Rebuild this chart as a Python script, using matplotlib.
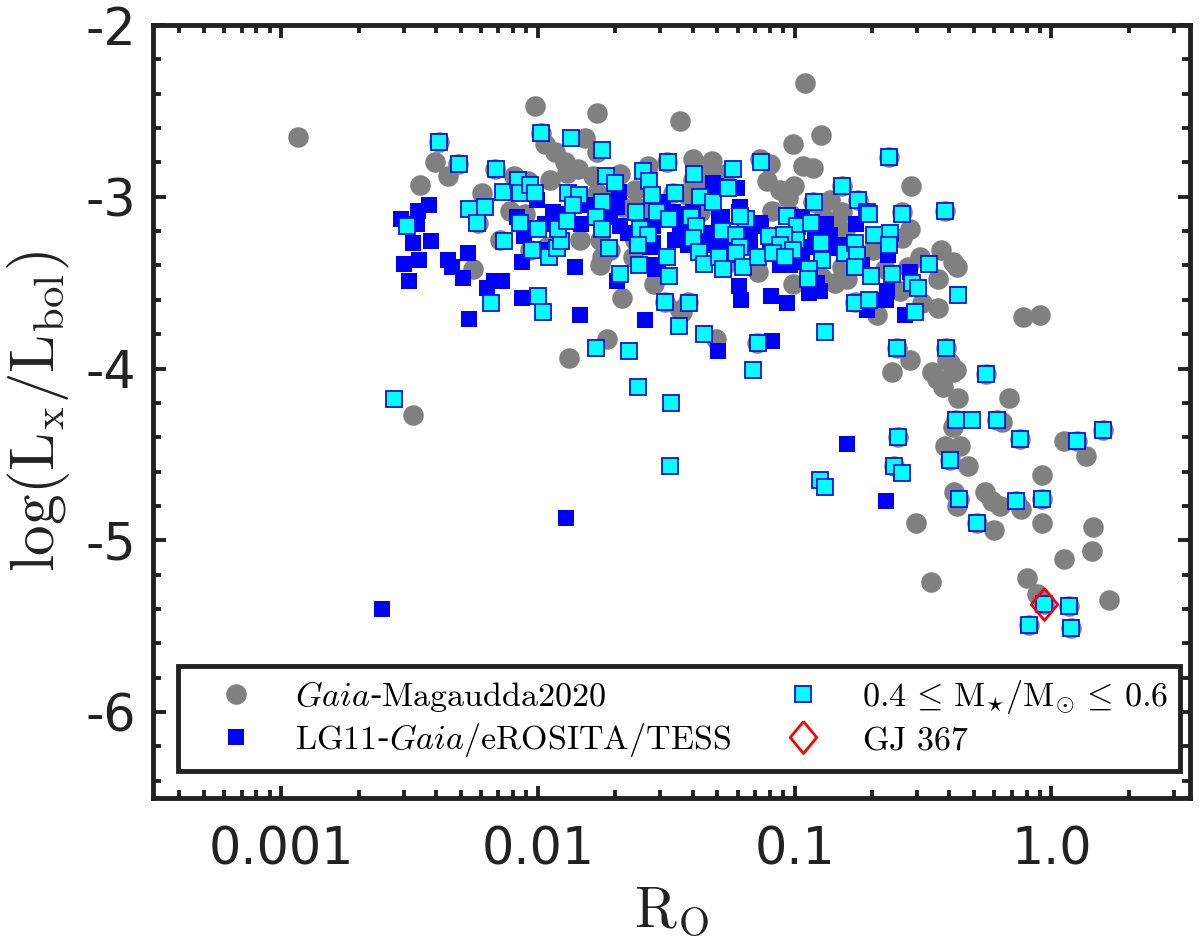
import numpy as np
from matplotlib import pyplot as plt
from matplotlib.ticker import FixedLocator, FixedFormatter, MultipleLocator, NullFormatter

plt.rcParams['axes.unicode_minus'] = False
plt.rcParams['mathtext.fontset'] = 'cm'

# log10(Ro), log(Lx/Lbol)
gaia_logro = [-2.010, -1.769, -1.446, -2.384, -2.400, -2.349, -2.458, -2.310, -2.166, -2.217, -2.092, -2.038,
              -2.108, -1.987, -1.971, -1.933, -1.894, -1.843, -1.952, -1.886, -1.816, -1.769, -1.784, -2.147,
              -2.232, -1.964, -2.252, -1.757, -1.749, -1.629, -1.718, -1.671, -1.547, -1.504, -1.446, -1.730,
              -1.878, -1.570, -1.496, -1.617, -1.668, -1.707, -1.769, -0.959, -0.896, -1.005, -1.395, -1.321,
              -1.134, -1.095, -0.966, -0.927, -1.107, -1.001, -1.025, -1.087, -0.546, -0.631, -0.814, -0.927,
              -0.814, -0.752, -0.581, -0.413, -0.581, -0.834, -0.888, -0.429, -0.510, -0.382, -0.557, -0.440,
              -0.366, -0.694, -0.814, -0.795, -0.842, -0.892, -1.005, -1.142, -0.588, -0.503, -0.440, -0.678,
              -0.764, -1.414, -1.438, -1.305, -1.146, -0.600, -0.409, -0.549, -0.620, -0.464, -0.405, -0.382,
              -1.368, -1.395, -1.473, -1.418, -1.329, -0.444, -0.421, -0.363, -0.394, -0.370, -0.253, -0.164,
              -0.382, -0.370, -0.191, -0.210, -0.121, -0.596, -0.413, -0.355, -0.394, -0.324, -0.612, 0.051,
              0.101, 0.136, 0.203, -0.035, -0.378, -0.366, -0.358, -0.257, -0.230, -0.199, -0.136, -0.117,
              -0.035, -0.035, -0.526, -0.288, -0.222, 0.163, 0.160, 0.051, -0.468, -0.094, -0.055, 0.226,
              0.070, -0.086, 0.078, -0.109, -0.043, -2.934, -2.486, -0.027,
              -1.621, -1.192, -1.017, -0.804, -1.270, -1.679, -1.621, -1.562, -1.368, -1.270, -1.056, -0.861,
              -1.757, -1.835, -2.030, -2.050, -0.549, -0.647]
gaia_lx = [-2.47, -2.51, -2.56, -2.68, -2.80, -2.88, -2.93, -2.81, -2.84, -2.98, -2.88, -2.91,
           -3.08, -2.63, -2.69, -2.74, -2.80, -2.84, -2.90, -2.86, -2.66, -2.74, -2.88, -3.25,
           -3.15, -3.29, -3.42, -3.25, -3.35, -3.35, -3.31, -3.59, -3.51, -3.61, -3.66, -3.83,
           -3.94, -2.82, -2.80, -3.06, -3.06, -2.98, -2.98, -2.34, -2.64, -2.69, -2.78, -2.79,
           -2.78, -2.81, -2.82, -2.83, -2.91, -2.94, -3.01, -3.08, -2.94, -2.77, -2.94, -3.03,
           -3.09, -3.02, -3.09, -3.08, -3.24, -3.17, -3.12, -3.31, -3.35, -3.38, -3.41, -3.48,
           -3.41, -3.31, -3.41, -3.48, -3.50, -3.47, -3.51, -3.44, -3.55, -3.62, -3.65, -3.69,
           -3.61, -3.61, -3.67, -3.83, -3.85, -3.88, -3.88, -3.95, -4.02, -4.02, -3.95, -4.02,
           -3.09, -2.90, -2.98, -2.99, -2.86, -4.06, -4.11, -4.17, -3.97, -4.01, -4.03, -4.17,
           -4.34, -4.30, -4.31, -4.30, -4.41, -4.40, -4.45, -4.45, -4.53, -4.57, -4.57, -4.42,
           -4.42, -4.51, -4.36, -4.62, -4.72, -4.80, -4.76, -4.72, -4.77, -4.80, -4.77, -4.82,
           -4.76, -4.90, -4.90, -4.90, -4.94, -4.92, -5.06, -5.11, -5.24, -5.22, -5.31, -5.35,
           -5.38, -5.49, -5.51, -3.70, -3.69, -2.65, -4.27, -5.37,
           -3.25, -3.19, -3.10, -3.20, -3.40, -2.87, -2.96, -3.08, -2.96, -2.87, -2.96, -3.02,
           -3.40, -3.25, -3.31, -3.10, -3.19, -3.42]

lg11_logro = [-2.423, -2.466, -2.532, -2.470, -2.486, -2.416, -2.521, -2.462, -2.501, -2.349, -2.334, -2.291,
              -2.271, -2.170, -2.139, -2.197, -2.061, -1.855, -2.061, -2.268, -1.835, -1.582, -1.691, -2.081,
              -2.053, -2.003, -1.940, -1.831, -1.991, -1.683, -1.718, -1.679, -1.648, -1.562, -1.551, -1.531,
              -1.512, -1.465, -1.446, -1.305, -1.223, -1.216, -1.294, -1.130, -1.438, -1.414, -1.446, -1.395,
              -1.356, -1.329, -1.294, -1.173, -1.216, -1.208, -1.091, -1.029, -1.052, -0.970, -0.947, -0.970,
              -0.877, -0.760, -0.849, -0.814, -0.736, -0.635, -0.549, -0.639, -0.643, -0.717, -0.569, -0.943,
              -0.900, -1.297, -1.087, -0.912, -2.607, -1.890, -0.795, -0.643,
              -1.473, -1.446, -1.340, -1.317, -1.282, -1.368, -1.309, -1.258, -1.317, -1.212, -1.134, -1.173,
              -1.543, -1.551, -1.691, -1.730, -1.590, -1.551, -1.056, -1.231, -1.407, -1.095, -0.997, -0.920,
              -0.861, -1.796, -1.913, -1.972, -1.017]
lg11_lx = [-3.05, -3.08, -3.13, -3.16, -3.27, -3.26, -3.39, -3.37, -3.49, -3.37, -3.41, -3.47,
           -3.33, -3.49, -3.49, -3.53, -3.38, -3.41, -3.59, -3.71, -3.69, -3.72, -3.49, -3.12,
           -3.23, -3.02, -3.09, -3.16, -3.31, -2.97, -3.12, -3.17, -3.21, -3.29, -3.40, -3.42,
           -3.03, -3.25, -3.12, -2.94, -2.95, -3.09, -3.13, -3.17, -3.10, -3.28, -3.19, -3.09,
           -3.23, -3.27, -3.28, -3.27, -3.52, -3.60, -3.58, -3.62, -3.38, -3.38, -3.29, -3.12,
           -3.16, -3.16, -3.30, -3.28, -3.40, -3.34, -3.44, -3.55, -3.60, -3.66, -3.69, -3.56,
           -3.55, -3.90, -3.84, -3.50, -5.40, -4.87, -4.44, -4.77,
           -3.09, -3.25, -3.23, -3.21, -3.12, -3.30, -3.28, -3.28, -2.92, -3.06, -3.15, -3.23,
           -3.42, -3.17, -3.06, -3.09, -3.19, -3.27, -3.40, -3.34, -3.22, -3.31, -3.22, -3.25,
           -3.22, -3.05, -3.10, -3.16, -3.40]

mass_logro = [-2.384, -2.307, -2.162, -1.987, -1.870, -1.749, -2.268, -2.205, -2.236, -2.509, -2.135, -2.077,
              -2.069, -2.030, -2.010, -2.069, -1.999, -2.131, -2.022, -1.956, -1.925, -1.909, -1.921, -1.882,
              -1.839, -1.862, -1.886, -1.734, -1.699, -1.749, -1.773, -1.749, -1.722, -1.679, -1.617, -1.590,
              -1.566, -1.555, -1.492, -1.465, -1.535, -1.488, -1.601, -1.570, -1.609, -1.605, -1.496, -1.488,
              -1.504, -1.449, -2.182, -1.999, -1.979, -1.773, -1.644, -1.391, -1.239, -1.130, -1.368, -1.317,
              -1.258, -1.403, -1.383, -1.395, -1.371, -1.352, -1.294, -1.278, -1.282, -1.227, -1.212, -1.227,
              -1.200, -1.188, -1.212, -1.142, -1.099, -1.029, -0.990, -0.994, -1.040, -1.056, -1.083, -1.005,
              -1.036, -0.935, -0.923, -0.814, -0.752, -0.717, -0.709, -0.581, -0.413, -0.631, -0.690, -0.627,
              -0.631, -0.896, -0.892, -0.943, -0.947, -0.803, -0.764, -0.756, -0.764, -0.701, -0.620, -0.475,
              -0.542, -0.518, -0.363, -0.764, -0.709, -0.530, -0.881, -1.142, -1.352, -1.410, -0.600, -0.409,
              -1.161, -0.253, -0.596, -0.612, -0.581, -0.900, -0.881, -0.394, -0.370, -0.308, -0.210, -0.121,
              0.101, 0.203, -0.358, -0.136, -0.035, -0.288, -0.027, 0.070, -0.086, 0.078, -2.560, -1.609,
              -1.481, -1.484]
mass_lx = [-2.68, -2.81, -2.84, -2.63, -2.66, -2.73, -3.07, -3.06, -3.15, -3.17, -2.97, -2.90,
           -2.98, -2.93, -2.98, -3.15, -3.19, -3.26, -3.31, -3.35, -3.30, -3.26, -3.19, -2.98,
           -2.99, -3.05, -3.14, -2.88, -2.92, -3.03, -3.12, -3.19, -3.30, -3.45, -3.09, -2.85,
           -2.91, -2.99, -2.80, -2.98, -3.09, -3.13, -3.19, -3.22, -3.28, -3.40, -3.35, -3.46,
           -3.61, -3.75, -3.62, -3.58, -3.67, -3.88, -3.90, -2.87, -2.84, -2.80, -3.00, -3.03,
           -2.95, -3.12, -3.17, -3.24, -3.32, -3.39, -3.35, -3.42, -3.20, -3.22, -3.29, -3.33,
           -3.41, -3.13, -3.11, -3.35, -3.23, -3.11, -3.17, -3.25, -3.22, -3.28, -3.33, -3.31,
           -3.35, -3.15, -3.03, -2.94, -3.02, -3.09, -3.10, -3.10, -3.08, -2.77, -3.22, -3.21,
           -3.28, -3.27, -3.37, -3.42, -3.48, -3.33, -3.27, -3.34, -3.41, -3.46, -3.45, -3.39,
           -3.50, -3.53, -3.57, -3.62, -3.60, -3.67, -3.79, -3.85, -3.80, -3.62, -3.88, -3.88,
           -4.01, -4.03, -4.40, -4.57, -4.61, -4.65, -4.69, -4.53, -4.30, -4.30, -4.30, -4.41,
           -4.42, -4.36, -4.76, -4.77, -4.76, -4.90, -5.37, -5.38, -5.49, -5.51, -4.18, -4.11,
           -4.20, -4.57]

gj367_logro = [-0.027]
gj367_lx = [-5.37]

f = plt.figure(figsize=(12, 9.48), dpi=100)
ax = f.add_axes([153/1200, 1-798/948, (1190-153)/1200, (798-25)/948])

ax.plot(10**np.array(gaia_logro), gaia_lx, 'o', color='#808080', ms=14.8, mew=0,
        label=r'$\mathit{Gaia}$-$\mathrm{Magaudda2020}$')
ax.plot(10**np.array(lg11_logro), lg11_lx, 's', color='#0000ff', ms=12, mew=0,
        label=r'$\mathrm{LG11}$-$\mathit{Gaia}/\mathrm{eROSITA/TESS}$')
ax.plot(10**np.array(mass_logro), mass_lx, 's', mfc='#00ffff', mec='#1010e8', ms=11.4, mew=1.3,
        label=r'$0.4\,\leq\,\mathrm{M_{\star}/M_{\odot}}\,\leq\,0.6$')
# wider diamond than the stock 'd' marker
diamond = [(0, 1), (0.83, 0), (0, -1), (-0.83, 0), (0, 1)]
ax.plot(10**np.array(gj367_logro), gj367_lx, marker=diamond, ls='none', mfc='none', mec='#ff0000', ms=23, mew=2,
        label=r'$\mathrm{GJ\ 367}$')

ax.set_xscale('log')
ax.set_xlim(10**-3.5, 10**0.54)
ax.set_ylim(-6.5, -2)

ax.xaxis.set_major_locator(FixedLocator([0.001, 0.01, 0.1, 1.0]))
ax.xaxis.set_major_formatter(FixedFormatter(['0.001', '0.01', '0.1', '1.0']))
ax.xaxis.set_minor_locator(FixedLocator([m*10.0**e for e in range(-4, 1) for m in range(2, 10)]))
ax.xaxis.set_minor_formatter(NullFormatter())
ax.yaxis.set_major_locator(MultipleLocator(1))
ax.yaxis.set_minor_locator(MultipleLocator(0.2))
ax.yaxis.set_major_formatter(lambda v, p: '%d' % v)

ax.tick_params(which='major', direction='in', length=9, width=2.8, top=True, right=True,
               labelsize=36.5, labelcolor='#222222', color='#222222', pad=20)
ax.tick_params(which='minor', direction='in', length=5.5, width=2.8, top=True, right=True, color='#222222')
ax.tick_params(axis='y', which='major', pad=12)
for s in ax.spines.values():
    s.set_linewidth(3.5)
    s.set_color('#222222')

ax.set_xlabel(r'$\mathrm{R_O}$', fontsize=41, labelpad=6, color='#222222')
ax.set_ylabel(r'$\mathrm{log(L_x/L_{bol})}$', fontsize=44, labelpad=10, color='#222222')

leg = ax.legend(ncol=2, loc='lower left', bbox_to_anchor=(25/1037, 27/773), fontsize=24.5, fancybox=False,
                framealpha=1, edgecolor='#222222', borderaxespad=0, columnspacing=0.75, handletextpad=0.4,
                handlelength=2.7, labelspacing=0.2, borderpad=0.35)
leg.get_frame().set_linewidth(3.5)
f.savefig('out.png', dpi=100)
